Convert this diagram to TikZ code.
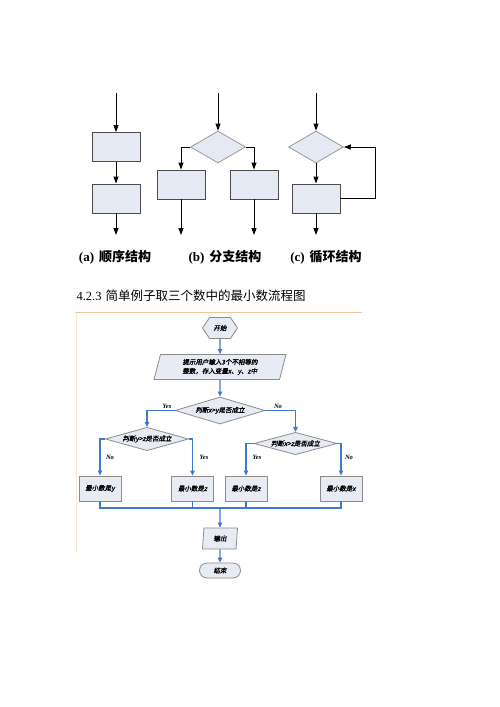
\documentclass[tikz,border=0pt]{standalone}
\usepackage{fontspec}
\setmainfont{Liberation Serif}
\newfontfamily\cjk{Noto Sans CJK SC}
\newfontfamily\cjkit{Noto Sans CJK SC}[FakeSlant=0.2,FakeBold=1.2]
\usetikzlibrary{shapes.geometric,shapes.symbols,arrows.meta}
\definecolor{boxfill}{HTML}{E4E9F3}
\definecolor{flowfill}{HTML}{E6EBF4}
\definecolor{flowblue}{HTML}{3F7AD0}
\definecolor{frameorange}{HTML}{F0C594}
\definecolor{framefade}{HTML}{F7E4CF}
\begin{document}
\begin{tikzpicture}[x=1pt, y=-1pt,
	struct box/.style={draw=black!70, fill=boxfill, line width=0.9pt, minimum width=48pt, minimum height=29pt, inner sep=0pt},
	struct test/.style={diamond, draw=black!40, fill=boxfill, line width=0.8pt, minimum width=55pt, minimum height=32pt, inner sep=0pt},
	struct arrow/.style={-{Triangle[length=7pt,width=5pt]}, line width=1pt},
	struct label/.style={font=\fontsize{13}{15}\selectfont\bfseries},
	flow node/.style={draw=black!45, fill=flowfill, line width=0.8pt, font=\cjkit\fontsize{6.5}{9}\selectfont, inner sep=0pt},
	flow box/.style={flow node, minimum width=42pt, minimum height=25pt},
	flow test/.style={flow node, diamond, aspect=3},
	flow io/.style={flow node, trapezium, trapezium stretches body},
	flow arrow/.style={draw=flowblue, line width=1.1pt, -{Triangle[length=5pt,width=4.5pt]}},
	flow line/.style={draw=flowblue, line width=1.1pt},
	flow answer/.style={font=\bfseries\itshape\fontsize{6.5}{8}\selectfont}]

	\useasboundingbox (0,0) rectangle (500,707);

	% (a) sequence
	\coordinate (a in) at (116,93);
	\coordinate (a out) at (116,235);
	\node[struct box] (a1) at (116,147) {};
	\node[struct box] (a2) at (116,198.5) {};
	\draw[struct arrow] (a in) -- (a1.north);
	\draw[struct arrow] (a1.south) -- (a2.north);
	\draw[struct arrow] (a2.south) -- (a out);

	% (b) branch
	\coordinate (b in) at (218,93);
	\node[struct test] (b test) at (218,147) {};
	\node[struct box] (b left) at (181,184.5) {};
	\node[struct box] (b right) at (254,184.5) {};
	\draw[struct arrow] (b in) -- (b test.north);
	\draw[struct arrow] (b test.west) -| (b left.north);
	\draw[struct arrow] (b test.east) -| (b right.north);
	\foreach \side in {left, right}
		\draw[struct arrow] (b \side.south) -- (b \side.south |- a out);

	% (c) loop
	\coordinate (c in) at (316,93);
	\coordinate (c back) at (375,147);
	\node[struct test] (c test) at (316,147) {};
	\node[struct box] (c body) at (316,198.5) {};
	\draw[struct arrow] (c in) -- (c test.north);
	\draw[struct arrow] (c test.south) -- (c body.north);
	\draw[struct arrow] (c body.south) -- (c body.south |- a out);
	\draw[struct arrow] (c body.east) -| (c back) -- (c test.east);

	% labeling
	\node[struct label] (a label) at (115,257) {(a)\hspace{5pt}\cjk 顺序结构};
	\node[struct label] (b label) at (225,257) {(b)\hspace{5pt}\cjk 分支结构};
	\node[struct label] (c label) at (326,257) {(c)\hspace{5pt}\cjk 循环结构};

	% heading and frame
	\node[anchor=west, font=\fontsize{12.5}{14}\selectfont] (heading) at (73,296) {4.2.3\hspace{4pt}\cjk 简单例子取三个数中的最小数流程图};
	\draw[frameorange, line width=1pt] (75,312) -- (362,312);
	\draw[framefade, line width=1pt] (76,312) -- (76,552);

	% flowchart nodes
	\node[flow node, signal, signal to=west and east, signal pointer angle=112, minimum width=35pt, minimum height=21pt] (start) at (220,328) {开始};
	\node[flow io, trapezium left angle=68, trapezium right angle=112, minimum width=132pt, minimum height=25pt, align=left] (input) at (220,367)
		{提示用户输入3个不相等的\\整数，存入变量x、y、z中};
	\node[flow test, minimum width=90pt, minimum height=27pt] (xy) at (220,410.5) {判断x>y是否成立};
	\node[flow test, minimum width=83pt, minimum height=22pt] (yz) at (147,439) {判断y>z是否成立};
	\node[flow test, minimum width=83pt, minimum height=21pt] (xz) at (295.5,443.5) {判断x>z是否成立};
	\foreach \name/\x/\var in {m1/100/y, m2/192.5/z, m3/246/z, m4/341/x}
		\node[flow box] (\name) at (\x,488.5) {最小数是\var};
	\coordinate (join) at (220,508);
	\node[flow io, trapezium left angle=76.6, trapezium right angle=103.4, minimum width=35pt, minimum height=21pt] (output) at (220,538.5) {输出};
	\node[flow node, rounded corners=7.5pt, minimum width=41pt, minimum height=15pt] (stop) at (220,570.5) {结束};

	% flowchart connections
	\draw[flow arrow] (start.south) -- (input.north);
	\draw[flow arrow] (input.south) -- (xy.north);
	\draw[flow arrow] (xy.west) -| (yz.north);
	\draw[flow arrow] (xy.east) -| (xz.north);
	\draw[flow arrow] (yz.west) -| (m1.north);
	\draw[flow arrow] (yz.east) -| (m2.north);
	\draw[flow arrow] (xz.west) -| (m3.north);
	\draw[flow arrow] (xz.east) -| (m4.north);
	\foreach \name in {m1, m2, m3, m4}
		\draw[flow line] (\name.south) |- (join);
	\draw[flow arrow] (join) -- (output.north);
	\draw[flow arrow] (output.south) -- (stop.north);

	% answers
	\node[flow answer] (xy yes) at (167,406) {Yes};
	\node[flow answer] (xy no) at (278,406) {No};
	\node[flow answer] (yz no) at (110,457) {No};
	\node[flow answer] (yz yes) at (204,457) {Yes};
	\node[flow answer] (xz yes) at (257,457) {Yes};
	\node[flow answer] (xz no) at (349,457) {No};
\end{tikzpicture}
\end{document}
